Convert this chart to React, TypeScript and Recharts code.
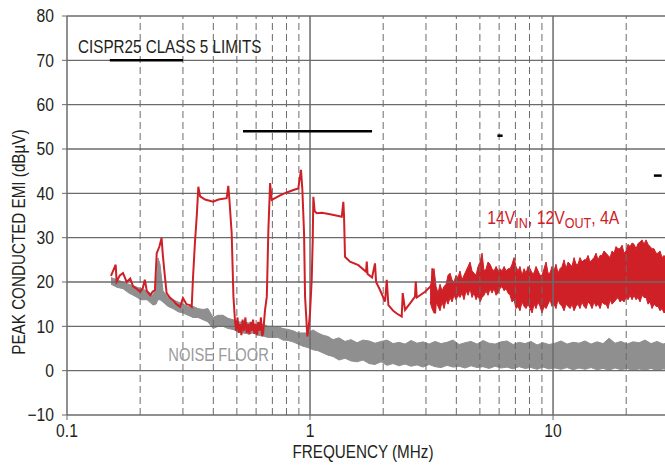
import {
  ComposedChart,
  Line,
  Area,
  XAxis,
  YAxis,
  ReferenceLine,
  ReferenceDot,
} from "recharts";

// frequency (MHz), level (dBµV) – red trace, clean part
const emiTrace: [number, number][] = [
  [0.1517, 21.4], [0.1586, 23.9], [0.16, 20.1], [0.165, 21.5], [0.17, 22.0], [0.176, 20.0],
  [0.182, 20.8], [0.187, 19.0], [0.193, 18.5], [0.2, 17.8], [0.205, 18.6], [0.209, 20.5],
  [0.213, 18.0], [0.22, 17.0], [0.225, 17.8], [0.23, 18.2], [0.234, 26.5], [0.24, 28.0],
  [0.245, 29.9], [0.248, 26.0], [0.252, 22.0], [0.257, 17.5], [0.265, 16.5], [0.273, 15.9],
  [0.282, 15.0], [0.292, 14.4], [0.3, 16.4], [0.31, 15.0], [0.32, 14.8], [0.326, 14.4],
  [0.33, 21.0], [0.336, 28.8], [0.342, 35.0], [0.347, 41.5], [0.353, 39.3], [0.37, 38.6],
  [0.399, 38.1], [0.42, 38.6], [0.454, 38.9], [0.461, 41.7], [0.466, 38.5], [0.476, 31.0],
  [0.484, 16.7], [0.491, 11.4], [0.497, 9.0], [0.503, 12.0], [0.509, 8.5], [0.515, 10.5],
  [0.522, 8.0], [0.528, 11.5], [0.535, 9.0], [0.542, 12.0], [0.549, 8.5], [0.556, 10.5],
  [0.563, 8.2], [0.57, 11.0], [0.577, 9.0], [0.583, 11.5], [0.59, 8.3], [0.597, 10.5],
  [0.605, 8.0], [0.612, 11.0], [0.62, 9.0], [0.628, 12.0], [0.635, 7.8], [0.641, 8.4],
  [0.653, 13.7], [0.664, 16.7], [0.674, 31.7], [0.685, 42.3], [0.696, 38.5], [0.75, 39.5],
  [0.802, 40.2], [0.86, 40.8], [0.895, 41.1], [0.918, 45.3], [0.93, 40.8], [0.945, 31.0],
  [0.954, 16.7], [0.975, 7.7], [0.988, 10.0], [1.0, 13.0], [1.016, 20.5], [1.026, 29.5],
  [1.032, 39.2], [1.045, 36.0], [1.066, 35.5], [1.12, 35.6], [1.209, 35.3], [1.28, 35.0],
  [1.351, 34.7], [1.371, 38.1], [1.38, 35.0], [1.393, 25.7], [1.461, 24.6], [1.581, 23.8],
  [1.7, 22.3], [1.712, 24.6], [1.725, 21.8], [1.8, 21.0], [1.851, 24.2], [1.87, 20.0],
  [1.941, 18.2], [2.036, 15.6], [2.069, 20.5], [2.101, 14.8], [2.2, 13.5], [2.274, 12.9],
  [2.384, 12.2], [2.407, 17.5], [2.46, 13.7], [2.58, 15.2], [2.704, 16.7], [2.723, 20.1],
  [2.75, 16.5], [2.974, 17.8], [3.169, 19.3], [3.187, 23.1], [3.22, 17.0], [3.27, 12.9],
  [3.3, 16.0], [3.428, 16.7],
];

// frequency (MHz), low, high (dBµV) – red trace, noisy part
const emiBand: [number, number, number][] = [
  [3.118, 15.5, 18.5], [3.177, 14.0, 21.0], [3.238, 13.0, 23.0], [3.3, 15.5, 19.0],
  [3.363, 14.5, 17.5], [3.427, 13.5, 19.5], [3.493, 15.5, 18.0], [3.56, 14.0, 19.0],
  [3.628, 16.0, 19.5], [3.697, 15.0, 21.5], [3.769, 16.5, 22.0], [3.84, 15.5, 20.5],
  [3.914, 17.0, 20.0], [3.99, 16.0, 21.5], [4.065, 17.0, 21.0], [4.14, 16.5, 22.5],
  [4.222, 17.5, 20.5], [4.3, 16.0, 21.5], [4.385, 18.0, 22.5], [4.47, 17.0, 23.5],
  [4.555, 18.5, 24.5], [4.64, 16.5, 22.5], [4.731, 17.5, 22.0], [4.82, 16.0, 21.5],
  [4.914, 17.0, 23.5], [5.01, 15.5, 24.5], [5.104, 16.5, 26.5], [5.2, 17.0, 22.5],
  [5.301, 18.0, 23.0], [5.4, 17.0, 24.5], [5.505, 18.5, 24.0], [5.61, 17.5, 23.0],
  [5.718, 18.5, 22.5], [5.83, 17.0, 23.5], [5.939, 17.5, 22.5], [6.05, 18.5, 23.0],
  [6.168, 19.0, 22.5], [6.29, 18.0, 23.5], [6.407, 18.5, 22.5], [6.53, 17.5, 23.0],
  [6.654, 17.0, 23.0], [6.78, 15.5, 24.0], [6.911, 16.0, 25.5], [7.04, 14.0, 23.5],
  [7.178, 14.5, 22.5], [7.31, 13.5, 23.5], [7.455, 15.5, 21.5], [7.6, 14.5, 23.0],
  [7.743, 14.0, 22.0], [7.89, 15.0, 23.5], [8.042, 14.0, 23.0], [8.2, 13.0, 22.0],
  [8.352, 15.0, 22.0], [8.51, 14.0, 23.5], [8.675, 15.5, 22.5], [8.84, 14.5, 21.5],
  [9.01, 13.0, 21.5], [9.18, 14.5, 23.0], [9.358, 14.0, 24.5], [9.54, 15.0, 22.0],
  [9.72, 16.0, 22.0], [9.9, 14.5, 23.5], [10.09, 15.0, 22.5], [10.28, 14.0, 24.0],
  [10.48, 16.0, 22.0], [10.68, 15.0, 23.0], [10.89, 14.5, 23.5], [11.1, 13.5, 25.0],
  [11.31, 15.0, 23.0], [11.53, 14.5, 24.5], [11.75, 14.0, 24.0], [11.97, 15.0, 23.5],
  [12.2, 13.5, 25.5], [12.43, 14.5, 24.0], [12.67, 15.0, 24.0], [12.91, 14.0, 25.5],
  [13.16, 15.5, 24.5], [13.41, 14.5, 25.0], [13.67, 14.0, 25.0], [13.93, 15.5, 26.0],
  [14.2, 15.0, 24.5], [14.47, 14.0, 25.0], [14.75, 15.5, 25.5], [15.03, 14.5, 26.5],
  [15.32, 15.0, 25.0], [15.61, 14.0, 26.0], [15.91, 15.5, 26.0], [16.21, 15.0, 27.0],
  [16.52, 15.0, 26.5], [16.84, 14.0, 26.0], [17.16, 16.0, 25.5], [17.49, 15.0, 27.0],
  [17.82, 15.5, 26.5], [18.16, 16.0, 28.0], [18.51, 16.5, 27.5], [18.86, 15.5, 27.5],
  [19.23, 16.0, 28.3], [19.6, 15.5, 26.5], [19.97, 16.5, 27.0], [20.35, 16.0, 28.5],
  [20.74, 17.0, 28.0], [21.14, 16.0, 28.8], [21.54, 17.0, 28.5], [21.95, 16.0, 27.5],
  [22.38, 16.5, 28.7], [22.8, 15.5, 29.0], [23.24, 17.0, 29.5], [23.68, 16.5, 28.5],
  [24.14, 16.5, 29.5], [24.6, 15.0, 28.5], [25.07, 15.5, 28.0], [25.55, 14.0, 27.5],
  [26.04, 15.0, 27.5], [26.54, 14.5, 26.5], [27.04, 14.5, 26.5], [27.56, 13.5, 27.0],
  [28.09, 14.0, 25.5], [28.62, 13.0, 26.0], [29.17, 13.5, 25.0], [29.73, 14.0, 25.5],
  [30.3, 13.5, 25.0],
];

// frequency (MHz), low, high (dBµV) – noise floor
const noiseFloor: [number, number, number][] = [
  [0.1517, 19.5, 21.0], [0.1606, 18.8, 20.5], [0.17, 18.5, 20.0], [0.1799, 17.5, 19.5],
  [0.1905, 16.8, 19.0], [0.2016, 16.0, 18.5], [0.2134, 16.0, 18.0], [0.2259, 14.8, 17.0],
  [0.2324, 15.0, 19.0], [0.2369, 16.0, 25.4], [0.2414, 16.0, 24.0], [0.2483, 15.5, 18.0],
  [0.2604, 14.5, 16.5], [0.2731, 14.0, 16.0], [0.2863, 13.3, 15.5], [0.3, 13.0, 15.0],
  [0.3148, 12.5, 14.5], [0.33, 12.0, 14.5], [0.346, 12.0, 14.0], [0.3628, 11.5, 13.8],
  [0.3804, 11.0, 14.0], [0.399, 9.5, 12.0], [0.4183, 10.0, 12.5], [0.4385, 10.0, 12.5],
  [0.4599, 9.5, 11.8], [0.4821, 9.3, 11.5], [0.5055, 8.8, 11.0], [0.5301, 8.5, 11.0],
  [0.5558, 8.3, 10.8], [0.5828, 8.5, 10.5], [0.6109, 8.0, 10.5], [0.6408, 7.8, 10.5],
  [0.6718, 7.5, 10.0], [0.7043, 7.5, 10.0], [0.7385, 7.5, 9.9], [0.7743, 6.9, 9.5],
  [0.8119, 6.8, 9.3], [0.8511, 6.5, 9.0], [0.8925, 6.0, 8.5], [0.9359, 5.5, 8.5],
  [0.9813, 5.2, 8.5], [1.029, 4.7, 9.2], [1.079, 4.5, 8.5], [1.131, 4.0, 8.0],
  [1.186, 3.5, 7.7], [1.243, 3.2, 7.0], [1.316, 2.4, 7.4], [1.393, 2.8, 6.6],
  [1.475, 2.2, 7.0], [1.561, 2.0, 6.3], [1.652, 2.4, 6.9], [1.749, 1.6, 6.7],
  [1.851, 1.4, 6.2], [1.96, 2.0, 6.6], [2.074, 1.2, 6.9], [2.196, 1.6, 6.1],
  [2.324, 1.1, 6.4], [2.46, 1.5, 6.0], [2.604, 1.0, 6.8], [2.756, 1.3, 6.2],
  [2.917, 0.8, 6.5], [3.088, 1.4, 6.0], [3.27, 0.9, 6.6], [3.46, 0.7, 6.1],
  [3.663, 1.2, 6.4], [3.877, 0.8, 6.9], [4.104, 1.0, 5.9], [4.345, 0.6, 6.3],
  [4.599, 1.1, 6.6], [4.868, 0.7, 6.0], [5.152, 0.9, 6.8], [5.454, 0.5, 6.2],
  [5.773, 1.0, 6.0], [6.109, 0.6, 6.5], [6.467, 0.8, 6.7], [6.845, 0.4, 5.9],
  [7.246, 0.9, 6.4], [7.67, 0.5, 6.1], [8.119, 0.7, 6.6], [8.594, 0.3, 5.8],
  [9.095, 0.8, 6.3], [9.627, 0.4, 5.9], [10.19, 0.6, 6.2], [10.79, 0.3, 6.7],
  [11.42, 0.7, 6.0], [12.09, 0.2, 6.4], [12.79, 0.6, 6.2], [13.54, 0.3, 6.7],
  [14.33, 0.7, 6.0], [15.17, 0.2, 6.5], [16.06, 0.5, 6.1], [17.0, 0.1, 7.3],
  [17.99, 0.6, 6.2], [19.05, 0.2, 6.6], [20.16, 0.5, 6.0], [21.34, 0.0, 6.5],
  [22.59, 0.4, 6.3], [23.91, 0.1, 6.9], [25.31, 0.5, 6.1], [26.79, 0.0, 6.6],
  [28.36, 0.4, 6.0], [30.02, 0.2, 6.4],
];

// CISPR25 class 5 peak limits: start MHz, end MHz, dBµV
const limitSegments: [number, number, number][] = [
  [0.15, 0.3, 70],
  [0.53, 1.8, 54],
  [5.9, 6.2, 53],
  [26, 28, 44],
];

const yTicks = [-10, 0, 10, 20, 30, 40, 50, 60, 70, 80];
const xTicks = [0.1, 1, 10];
const majorX = [1, 10];
const minorX = [0.2, 0.3, 0.4, 0.5, 0.6, 0.7, 0.8, 0.9, 2, 3, 4, 5, 6, 7, 8, 9, 20];

const RED = "#cf2027";
const GRAY = "#8f8f8f";
const GRID = "#6b6b6b";
const INK = "#231f20";
const FONT = "'Liberation Sans', Arial, sans-serif";
const SQUEEZE = 0.87;

const traceData = emiTrace.map(([f, db]) => ({ f, db }));
const bandData = emiBand.map(([f, lo, hi]) => ({ f, band: [lo, hi] }));
const noiseData = noiseFloor.map(([f, lo, hi]) => ({ f, band: [lo, hi] }));

const fmtY = (v: number) => (v < 0 ? `\u2212${Math.abs(v)}` : `${v}`);

// condensed-looking text: Helvetica Condensed isn't available, so squeeze horizontally
function Narrow({ x, y, rotate = 0, sx = SQUEEZE, anchor = "start", size = 17.5, fill = INK, children }: any) {
  return (
    <g transform={`translate(${x},${y}) rotate(${rotate}) scale(${sx},1)`}>
      <text x={0} y={0} textAnchor={anchor} fontSize={size} fill={fill} fontFamily={FONT}>
        {children}
      </text>
    </g>
  );
}

const YTick = (p: any) => (
  <Narrow x={p.x} y={p.y + 6.3} anchor="end" size={18}>
    {fmtY(p.payload.value)}
  </Narrow>
);

const XTick = (p: any) => (
  <Narrow x={p.x} y={p.y + 13.5} anchor="middle" size={18}>
    {`${p.payload.value}`}
  </Narrow>
);

export default function App() {
  return (
    <div
      style={{
        position: "absolute",
        left: 0,
        top: 0,
        width: 665,
        height: 466,
        overflow: "hidden",
        background: "#fff",
        fontFamily: FONT,
      }}
    >
      <ComposedChart width={680} height={466} margin={{ top: 16, right: 11, bottom: 0, left: 0 }}>
        <XAxis
          dataKey="f"
          type="number"
          scale="log"
          domain={[0.1, 30]}
          allowDataOverflow
          ticks={xTicks}
          height={51}
          tick={XTick}
          tickSize={5}
          tickMargin={3}
          axisLine={{ stroke: GRID, strokeWidth: 1.5 }}
          tickLine={{ stroke: GRID }}
        />
        <YAxis
          type="number"
          domain={[-10, 80]}
          ticks={yTicks}
          width={67}
          tick={YTick}
          tickSize={5}
          tickMargin={8}
          axisLine={{ stroke: GRID, strokeWidth: 1.5 }}
          tickLine={{ stroke: GRID }}
        />

        {yTicks.filter((v) => v > -10).map((v) => (
          <ReferenceLine key={`h${v}`} y={v} stroke={GRID} strokeWidth={1.3} />
        ))}
        {minorX.map((v) => (
          <ReferenceLine key={`m${v}`} x={v} stroke={GRID} strokeWidth={1} strokeDasharray="7 4" />
        ))}
        {majorX.map((v) => (
          <ReferenceLine key={`M${v}`} x={v} stroke={GRID} strokeWidth={1.5} />
        ))}

        <Area
          data={noiseData}
          dataKey="band"
          type="linear"
          stroke={GRAY}
          strokeWidth={1}
          fill={GRAY}
          fillOpacity={1}
          isAnimationActive={false}
        />
        <Area
          data={bandData}
          dataKey="band"
          type="linear"
          stroke={RED}
          strokeWidth={1}
          fill={RED}
          fillOpacity={1}
          isAnimationActive={false}
        />
        <Line
          data={traceData}
          dataKey="db"
          type="linear"
          stroke={RED}
          strokeWidth={2}
          dot={false}
          isAnimationActive={false}
        />

        {limitSegments.map(([a, b, v]) => (
          <ReferenceLine
            key={`l${a}`}
            segment={[{ x: a, y: v }, { x: b, y: v }]}
            stroke="#000"
            strokeWidth={2.5}
          />
        ))}

        <ReferenceDot
          x={0.111}
          y={71.6}
          r={0}
          shape={(p: any) => <Narrow x={p.cx} y={p.cy}>CISPR25 CLASS 5 LIMITS</Narrow>}
        />
        <ReferenceDot
          x={0.2612}
          y={2.2}
          r={0}
          shape={(p: any) => (
            <Narrow x={p.cx} y={p.cy} sx={0.84} fill="#9a9a9a">
              NOISE FLOOR
            </Narrow>
          )}
        />
        <ReferenceDot
          x={5.365}
          y={33}
          r={0}
          shape={(p: any) => (
            <Narrow x={p.cx} y={p.cy} sx={0.9} fill={RED}>
              14V
              <tspan fontSize={14} dy={4}>IN</tspan>
              <tspan dy={-4}>, 12V</tspan>
              <tspan fontSize={14} dy={4}>OUT</tspan>
              <tspan dy={-4}>, 4A</tspan>
            </Narrow>
          )}
        />
        <ReferenceDot
          x={1.652}
          y={-19.76}
          r={0}
          ifOverflow="visible"
          shape={(p: any) => (
            <Narrow x={p.cx} y={p.cy} anchor="middle">
              FREQUENCY (MHz)
            </Narrow>
          )}
        />
        <ReferenceDot
          x={0.0672}
          y={29}
          r={0}
          ifOverflow="visible"
          shape={(p: any) => (
            <Narrow x={p.cx} y={p.cy} rotate={-90} anchor="middle">
              {"PEAK CONDUCTED EMI (dB\u00b5V)"}
            </Narrow>
          )}
        />
      </ComposedChart>
    </div>
  );
}
